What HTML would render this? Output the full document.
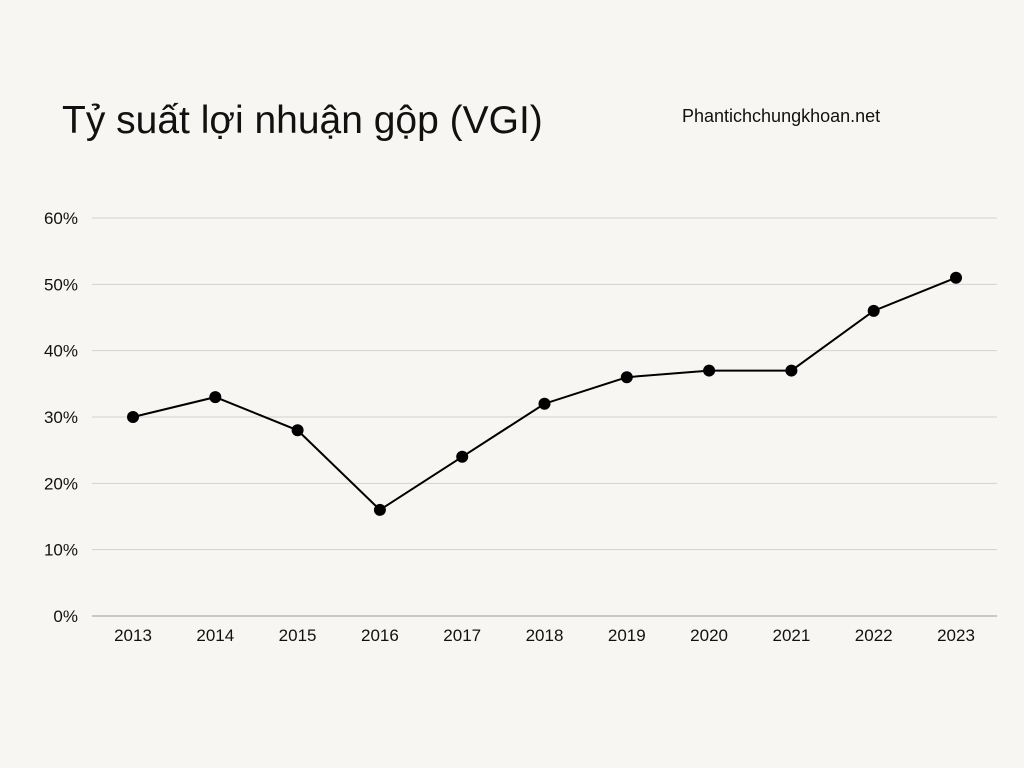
<!DOCTYPE html>
<html><head><meta charset="utf-8"><style>
body{margin:0;background:#f8f6f2;}
svg{display:block}
text{font-family:"Liberation Sans","DejaVu Sans",sans-serif;fill:#111}
</style></head><body>
<svg width="1024" height="768" viewBox="0 0 1024 768">
<rect width="1024" height="768" fill="#f8f6f2"/>
<text x="62" y="133" font-size="39">Tỷ suất lợi nhuận gộp (VGI)</text>
<text x="682" y="122" font-size="18">Phantichchungkhoan.net</text>
<g id="grid"></g><g id="xl"></g><g id="line"></g>
</svg>
<script>
const years=["2013","2014","2015","2016","2017","2018","2019","2020","2021","2022","2023"];
const margins=[30,33,28,16,24,32,36,37,37,46,51];
const yTicks=[0,10,20,30,40,50,60];
const ns="http://www.w3.org/2000/svg";
const y=v=>616-v*(616-218)/60;
const x=i=>133+i*(956-133)/(years.length-1);
function mk(t,a,p){const e=document.createElementNS(ns,t);for(const k in a)e.setAttribute(k,a[k]);p.appendChild(e);return e;}
const g=document.getElementById('grid');
yTicks.forEach(v=>{
 const l=mk('line',{x1:92,x2:997,y1:y(v),y2:y(v),stroke:v===0?'#999':'#d4d2ce','stroke-width':1},g);
 
 
 const t=mk('text',{x:78,y:y(v)+6,'font-size':17,'text-anchor':'end'},g);t.textContent=v+'%';
 
 
});
const xl=document.getElementById('xl');
years.forEach((yr,i)=>{const t=mk('text',{x:x(i),y:641,'font-size':17,'text-anchor':'middle'},xl);t.textContent=yr;
 
 });
const lg=document.getElementById('line');
const pl=mk('polyline',{points:margins.map((v,i)=>x(i)+','+y(v)).join(' '),fill:'none',stroke:'#000','stroke-width':2},lg);


margins.forEach((v,i)=>{const c=mk('circle',{cx:x(i),cy:y(v),r:6,fill:'#000'},lg);
 
 });
</script>
</body></html>
